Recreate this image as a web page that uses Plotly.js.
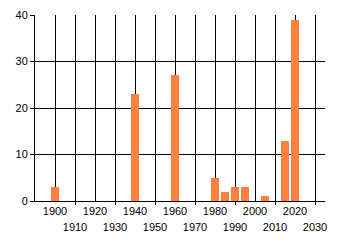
<!DOCTYPE html>
<html>
<head>
<meta charset="utf-8">
<script src="https://cdn.plot.ly/plotly-3.0.1.min.js"></script>
<style>html,body{margin:0;padding:0;background:#fff;}#chart{width:340px;height:245px;}</style>
</head>
<body>
<div id="chart"></div>
<script>
const years = [1900, 1940, 1960, 1980, 1985, 1990, 1995, 2005, 2015, 2020];
const counts = [3, 23, 27, 5, 2, 3, 3, 1, 13, 39];
const evenTicks = [1900, 1920, 1940, 1960, 1980, 2000, 2020];
const oddTicks = [1910, 1930, 1950, 1970, 1990, 2010, 2030];
const yTicks = [0, 10, 20, 30, 40];

const font = {family: 'Liberation Sans, Arial, sans-serif', size: 11, color: '#000'};
const xRange = [1890, 2035];

Plotly.newPlot('chart', [{
  type: 'bar',
  x: years,
  y: counts,
  width: 4,
  marker: {color: '#FF8040', line: {width: 0}},
  hoverinfo: 'none'
}, {
  type: 'scatter', mode: 'markers',
  x: [], y: [],
  xaxis: 'x2', yaxis: 'y',
  hoverinfo: 'none', showlegend: false
}], {
  width: 340, height: 245,
  margin: {l: 35, r: 15, t: 15, b: 44, pad: 0},
  paper_bgcolor: '#fff', plot_bgcolor: '#fff',
  font: font,
  showlegend: false,
  bargap: 0,
  xaxis: {
    range: xRange, tickvals: evenTicks, ticktext: evenTicks.map(String),
    showgrid: true, gridcolor: '#000', gridwidth: 1,
    ticks: '',
    showline: true, linecolor: '#000', linewidth: 1,
    zeroline: false, tickfont: font, fixedrange: true
  },
  xaxis2: {
    range: xRange, overlaying: 'x', anchor: 'y', side: 'bottom',
    tickvals: oddTicks, ticktext: oddTicks.map(String),
    showgrid: true, gridcolor: '#000', gridwidth: 1,
    ticks: 'outside', ticklen: 3, tickcolor: '#000', tickwidth: 1,
    ticklabelstandoff: 13,
    showline: false, zeroline: false, tickfont: font, fixedrange: true
  },
  yaxis: {
    range: [0, 40], tickvals: yTicks,
    showgrid: true, gridcolor: '#000', gridwidth: 1,
    ticks: 'outside', ticklen: 4, tickcolor: '#000',
    showline: true, linecolor: '#000', linewidth: 1,
    zeroline: false, tickfont: font, fixedrange: true
  }
}, {staticPlot: true});
</script>
</body>
</html>
